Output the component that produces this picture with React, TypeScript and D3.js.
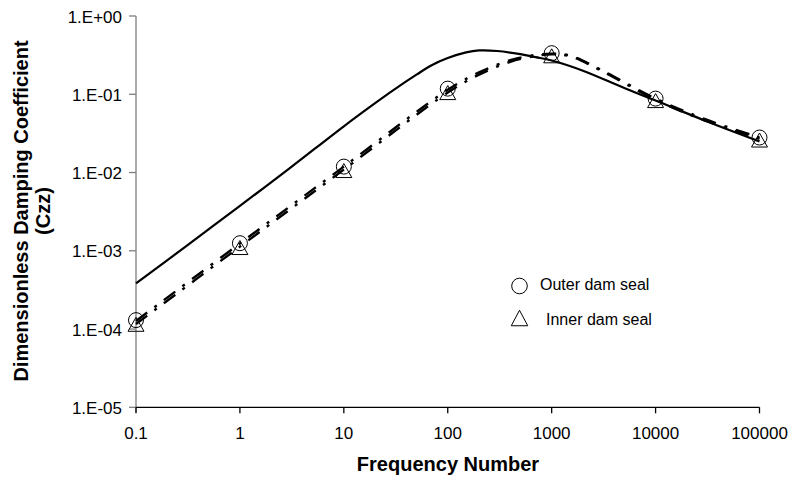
import React from "react";
import * as d3 from "d3";

// ---- data ----
const xTicks = [0.1, 1, 10, 100, 1000, 10000, 100000];
const xTickLabels = ["0.1", "1", "10", "100", "1000", "10000", "100000"];
const yTicks = [1, 0.1, 0.01, 0.001, 0.0001, 0.00001];
const yTickLabels = ["1.E+00", "1.E-01", "1.E-02", "1.E-03", "1.E-04", "1.E-05"];

// solid (analytical) curve
const solidX = [0.1, 0.3, 1, 3, 10, 20, 30, 50, 70, 100, 150, 200, 300, 500, 700, 1000, 2000, 5000, 10000, 30000, 100000];
const solidY = [3.84e-4, 1.13e-3, 3.75e-3, 1.13e-2, 0.039, 0.077, 0.113, 0.178, 0.235, 0.29, 0.343, 0.363, 0.357, 0.325, 0.298, 0.27, 0.2, 0.12, 0.083, 0.046, 0.025];

// outer dam seal (dash-dot line)
const outerX = [0.1, 1, 10, 100, 200, 400, 700, 1000, 1500, 3000, 10000, 30000, 100000];
const outerY = [1.27e-4, 1.24e-3, 0.0119, 0.114, 0.19, 0.272, 0.318, 0.33, 0.312, 0.205, 0.088, 0.048, 0.028];
// inner dam seal (dash-dot line)
const innerX = [0.1, 1, 10, 100, 200, 400, 700, 1000, 1500, 3000, 10000, 30000, 100000];
const innerY = [1.16e-4, 1.13e-3, 0.0109, 0.105, 0.178, 0.26, 0.308, 0.324, 0.306, 0.2, 0.085, 0.046, 0.027];

// markers
const markerX = [0.1, 1, 10, 100, 1000, 10000, 100000];
const outerMarkY = [1.3e-4, 1.25e-3, 0.0119, 0.118, 0.335, 0.088, 0.028];
const innerMarkY = [1.15e-4, 1.1e-3, 0.0106, 0.105, 0.31, 0.083, 0.026];

const FONT = "'Liberation Sans', Arial, Helvetica, sans-serif";

export default function App() {
  const x = d3.scaleLog().domain([0.1, 100000]).range([136, 759.5]);
  const y = d3.scaleLog().domain([0.00001, 1]).range([407.3, 16]);

  const line = d3
    .line<[number, number]>()
    .x((d) => x(d[0]))
    .y((d) => y(d[1]))
    .curve(d3.curveCatmullRom.alpha(0.5));

  const solidPath = line(solidX.map((v, i) => [v, solidY[i]]) as [number, number][]) || "";
  const outerPath = line(outerX.map((v, i) => [v, outerY[i]]) as [number, number][]) || "";
  const innerPath = line(innerX.map((v, i) => [v, innerY[i]]) as [number, number][]) || "";

  const tri = (cx: number, cy: number, w = 16, h = 14) =>
    `M${cx},${cy - h / 2}L${cx + w / 2},${cy + h / 2}L${cx - w / 2},${cy + h / 2}Z`;

  const x0 = x.range()[0];
  const x1 = x.range()[1];
  const yb = y.range()[0];
  const yt = y.range()[1];

  return (
    <svg
      width={790}
      height={477}
      style={{ position: "absolute", left: 0, top: 0, background: "#fff" }}
      fontFamily={FONT}
    >
      <rect x={0} y={0} width={790} height={477} fill="#fff" />

      {/* y axis */}
      <line x1={x0} x2={x0} y1={yt} y2={yb + 5} stroke="#7f7f7f" strokeWidth={1.3} />
      {yTicks.map((t, i) => (
        <g key={"yt" + i}>
          <line x1={x0 - 7} x2={x0} y1={y(t)} y2={y(t)} stroke="#7f7f7f" strokeWidth={1.3} />
          <text x={x0 - 14} y={y(t) + 6.5} textAnchor="end" fontSize={17} fill="#000">
            {yTickLabels[i]}
          </text>
        </g>
      ))}

      {/* x axis */}
      <line x1={x0} x2={x1} y1={yb} y2={yb} stroke="#000" strokeWidth={1.3} />
      {xTicks.map((t, i) => (
        <g key={"xt" + i}>
          <line x1={x(t)} x2={x(t)} y1={yb} y2={yb + 6} stroke="#000" strokeWidth={1.3} />
          <text x={x(t)} y={439} textAnchor="middle" fontSize={17} fill="#000">
            {xTickLabels[i]}
          </text>
        </g>
      ))}

      {/* axis titles */}
      <text x={448} y={471} textAnchor="middle" fontSize={20} fontWeight="bold">
        Frequency Number
      </text>
      <text transform="translate(27.5,211) rotate(-90)" textAnchor="middle" fontSize={20} fontWeight="bold">
        Dimensionless Damping Coefficient
      </text>
      <text transform="translate(49.5,211) rotate(-90)" textAnchor="middle" fontSize={20} fontWeight="bold">
        (Czz)
      </text>

      {/* curves */}
      <path d={solidPath} fill="none" stroke="#000" strokeWidth={2.2} />
      <path d={outerPath} fill="none" stroke="#000" strokeWidth={2.4} strokeDasharray="14,9,3,9" />
      <path d={innerPath} fill="none" stroke="#000" strokeWidth={2.4} strokeDasharray="14,9,3,9" />

      {/* markers */}
      {markerX.map((v, i) => (
        <circle key={"c" + i} cx={x(v)} cy={y(outerMarkY[i])} r={7.5} fill="none" stroke="#000" strokeWidth={1} />
      ))}
      {markerX.map((v, i) => (
        <path key={"t" + i} d={tri(x(v), y(innerMarkY[i]))} fill="none" stroke="#000" strokeWidth={1} />
      ))}

      {/* legend */}
      <circle cx={519.5} cy={286} r={7.8} fill="none" stroke="#000" strokeWidth={1} />
      <text x={540} y={290} fontSize={16}>
        Outer dam seal
      </text>
      <path d={tri(519.5, 318, 16.5, 15.5)} fill="none" stroke="#000" strokeWidth={1} />
      <text x={546} y={325} fontSize={16}>
        Inner dam seal
      </text>
    </svg>
  );
}
